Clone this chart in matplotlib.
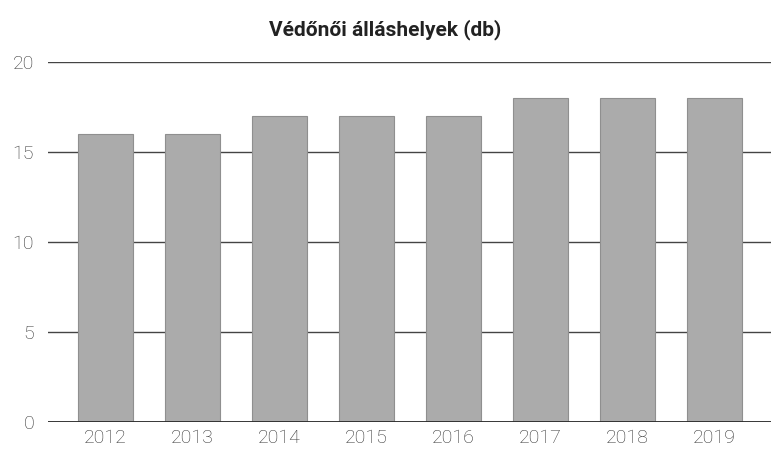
import matplotlib.pyplot as plt

years = ['2012', '2013', '2014', '2015', '2016', '2017', '2018', '2019']
values = [16, 16, 17, 17, 17, 18, 18, 18]
yticks = [0, 5, 10, 15, 20]

plt.rcParams['font.family'] = ['Roboto', 'DejaVu Sans']

fig = plt.figure(figsize=(7.71, 4.54), dpi=100)
ax = fig.add_axes([0.0623, 0.0705, 0.9377, 0.793])

x = range(len(years))
ax.bar(x, values, width=0.63, color='#ababab', edgecolor='#8f8f8f', linewidth=0.8, zorder=3)

ax.set_xlim(-0.66, 7.65)
ax.set_ylim(0, 20)
ax.set_yticks(yticks)
ax.set_xticks(list(x))
ax.set_xticklabels(years)
ax.yaxis.grid(True, color='#444444', linewidth=1.0, zorder=0)
ax.tick_params(axis='both', length=0, labelsize=14, colors='#333333')
ax.tick_params(axis='y', pad=10)
ax.tick_params(axis='x', pad=5)
for lbl in ax.get_xticklabels() + ax.get_yticklabels():
    lbl.set_fontweight('light')
for s in ax.spines.values():
    s.set_visible(False)
ax.axhline(0, color='#2a2a2a', linewidth=1.3, zorder=4)

fig.text(0.5, 0.935, 'Védőnői álláshelyek (db)', ha='center', va='center',
         fontsize=15, fontweight='bold', color='#222222')

fig.savefig('out.png', dpi=100)
